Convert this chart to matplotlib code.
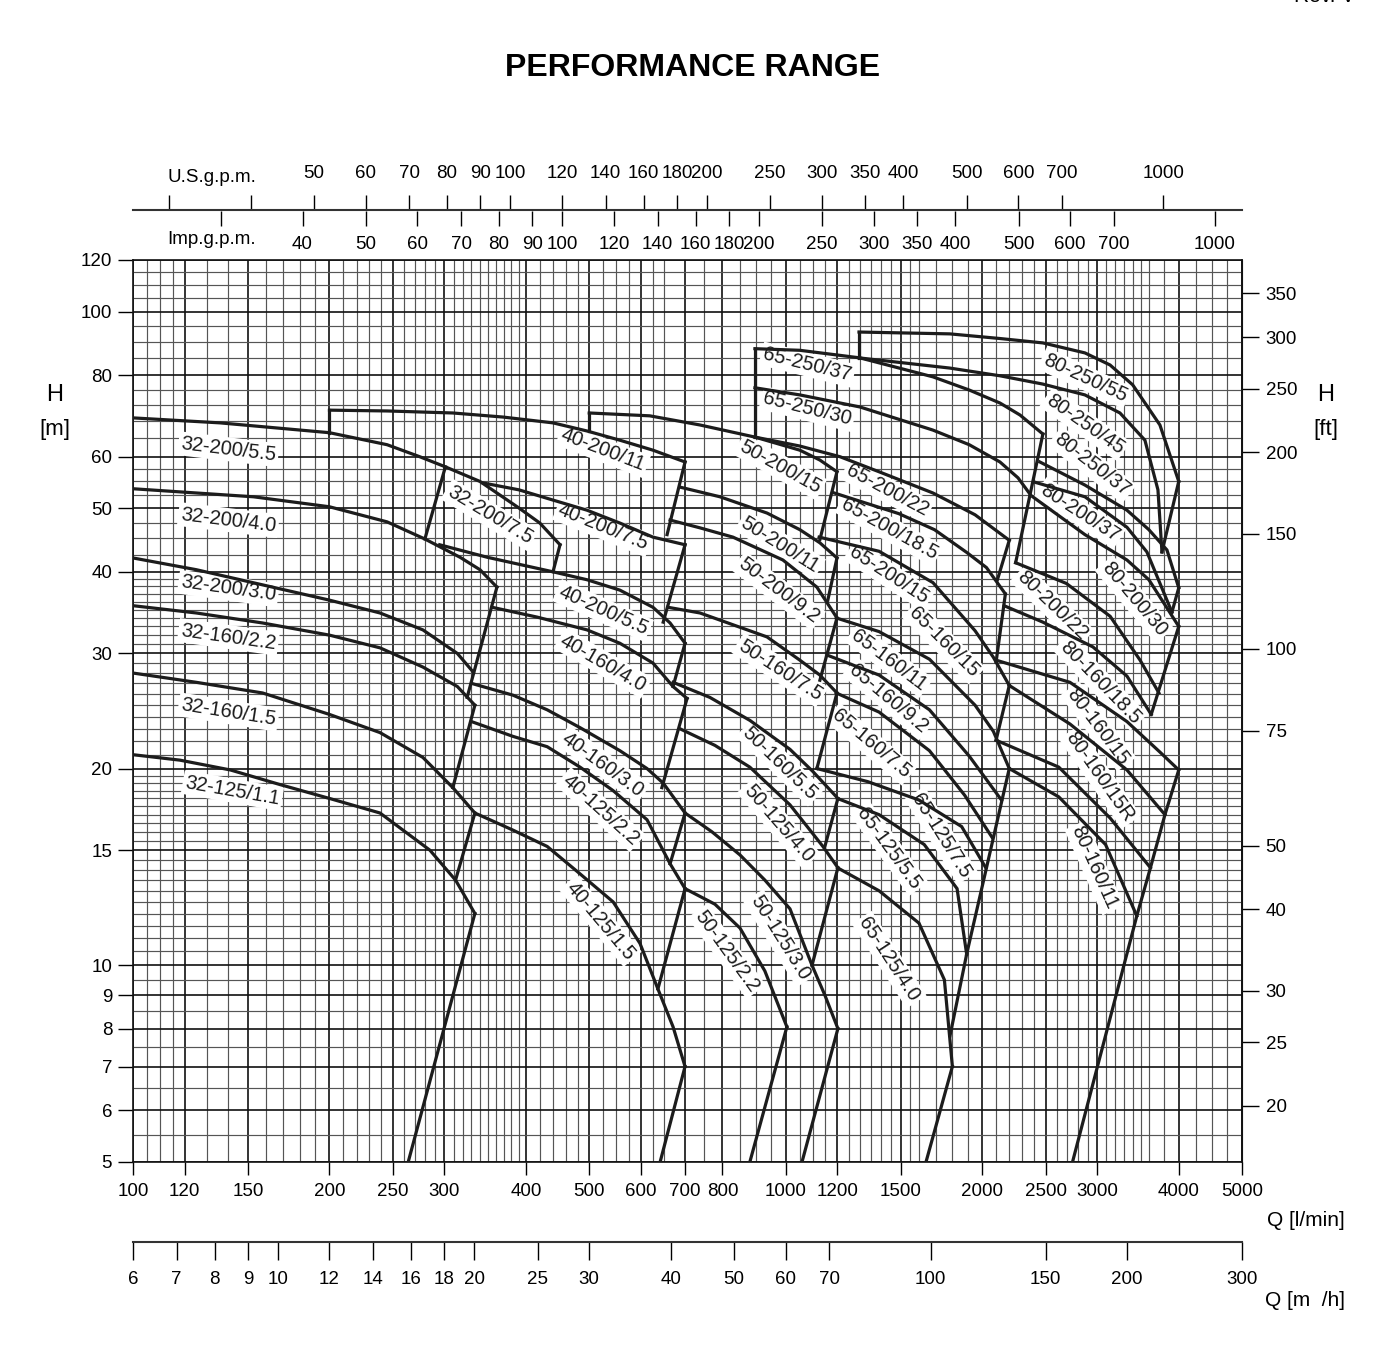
import numpy as np
import matplotlib
matplotlib.use("Agg")
import matplotlib.pyplot as plt
from matplotlib.ticker import NullFormatter, NullLocator

plt.rcParams['font.family'] = ['Liberation Sans', 'DejaVu Sans']

# ---------------- data: pump curves, Q [l/min] vs H [m] ----------------
lines_32 = [
    ([100, 136, 200, 245, 275, 301, 340, 390, 420, 451], [68.8, 67.6, 65.3, 62.6, 60, 57.9, 55, 50.1, 47.5, 44]),
    ([301, 280], [57.9, 44.9]),
    ([451, 440], [44, 40]),
    ([100, 153, 200, 245, 280, 317, 340, 361], [53.6, 52.1, 50.3, 47.7, 44.9, 42.1, 40.3, 37.9]),
    ([100, 125, 158, 200, 239, 278, 314, 332], [42, 40.3, 38.2, 36.2, 34.6, 32.6, 30, 28.1]),
    ([100, 125, 158, 200, 239, 278, 314, 334], [35.5, 34.6, 33.4, 32, 30.6, 28.6, 26.7, 25]),
    ([361, 325], [37.9, 25.7]),
    ([334, 309], [25, 18.7]),
    ([100, 125, 158, 200, 239, 278, 309, 334], [28, 27.1, 26.1, 24.2, 22.7, 20.8, 18.7, 17.1]),
    ([334, 312], [17.1, 13.5]),
    ([100, 118, 141, 168, 200, 239, 285, 312, 334], [21, 20.6, 19.9, 18.9, 18, 17.1, 15, 13.5, 12]),
    ([334, 264], [12, 5]),
]

lines_40 = [
    ([200, 200], [65.3, 70.7]),
    ([200, 245, 309, 369, 440, 496, 557, 626, 701], [70.7, 70.5, 70, 69, 67.6, 65.7, 63.6, 61.4, 58.9]),
    ([701, 658], [58.9, 45.6]),
    ([344, 390, 440, 496, 557, 626, 701], [54.7, 53.4, 51.5, 49.7, 47.5, 45.2, 44]),
    ([701, 649], [44, 33.5]),
    ([295, 349, 440, 496, 557, 626, 665, 701], [44, 42.1, 40, 38.9, 37.5, 35.3, 33.4, 31.1]),
    ([701, 672], [31.1, 26.7]),
    ([355, 416, 496, 557, 626, 672, 706], [35.3, 34.1, 32.6, 31.1, 29, 26.7, 25.6]),
    ([706, 646], [25.6, 18.7]),
    ([330, 382, 431, 484, 557, 613, 649, 701], [27, 25.9, 24.6, 23.1, 21.3, 20, 19, 17.1]),
    ([701, 665], [17.1, 14.3]),
    ([330, 382, 431, 484, 544, 613, 665, 701], [23.6, 22.4, 21.6, 20.1, 18.5, 16.7, 14.3, 13.1]),
    ([701, 637], [13.1, 9.2]),
    ([334, 382, 431, 484, 544, 598, 637, 672, 701], [17.1, 16.1, 15.2, 13.8, 12.5, 10.8, 9.2, 8.05, 7]),
    ([701, 642], [7, 5]),
]

lines_50 = [
    ([500, 500], [65.6, 70]),
    ([500, 619, 739, 897, 1051, 1128, 1198], [70, 69.3, 67.1, 64.3, 61.4, 59.3, 56.9]),
    ([1198, 1128], [56.9, 44.8]),
    ([689, 739, 793, 936, 1051, 1128, 1198], [53.9, 53, 52.1, 49.2, 46.4, 44.3, 42]),
    ([1198, 1160], [42, 36.2]),
    ([665, 739, 830, 990, 1116, 1198], [48, 46.7, 45.2, 41.7, 37.9, 34]),
    ([1198, 1128], [34, 27.3]),
    ([660, 739, 936, 1051, 1128, 1198], [35.3, 34.6, 31.8, 29.3, 27.8, 26.1]),
    ([1198, 1116], [26.1, 20]),
    ([672, 765, 881, 1015, 1100, 1202], [27.1, 25.7, 23.7, 21.4, 19.8, 18]),
    ([1202, 1148], [18, 15.2]),
    ([689, 779, 881, 1015, 1140, 1202], [23, 21.7, 20.1, 17.6, 15.2, 14.1]),
    ([1202, 1097], [14.1, 10]),
    ([701, 771, 851, 929, 1015, 1097, 1148, 1202], [17.1, 16, 14.75, 13.5, 12.2, 10, 9, 8]),
    ([1202, 1059], [8, 5]),
    ([701, 779, 851, 929, 1004], [13.1, 12.4, 11.4, 9.8, 8.05]),
    ([1004, 881], [8.05, 5]),
]

lines_65 = [
    ([897, 897], [64.3, 87.8]),
    ([897, 1051, 1299, 1681, 1910, 2129, 2285, 2477], [87.8, 87.3, 85, 79.5, 75.9, 72.5, 69.5, 65]),
    ([897, 1051, 1299, 1681, 1910, 2129, 2269, 2370], [76.5, 74.6, 71.5, 65.9, 62.6, 58.9, 55.7, 52.5]),
    ([897, 1051, 1211, 1390, 1681, 1950, 2200], [64.3, 62.3, 60, 56.9, 52.8, 48.9, 44.7]),
    ([2200, 2110], [44.7, 38.9]),
    ([1180, 1490, 1690, 1895, 2030, 2170], [52.9, 49.1, 46.4, 42.8, 40.6, 37]),
    ([2170, 2100], [37, 29.1]),
    ([1125, 1390, 1681, 1950, 2080, 2200], [45.2, 43, 38.5, 32.5, 29.6, 26.8]),
    ([2200, 2100], [26.8, 22.1]),
    ([1195, 1390, 1660, 1950, 2080, 2200], [34, 32.4, 29.4, 25, 22.8, 20]),
    ([2200, 1893], [20, 10.4]),
    ([1160, 1390, 1660, 1910, 2140], [29.8, 27.8, 24.6, 20.9, 17.9]),
    ([1195, 1390, 1660, 1880, 2070], [26.1, 24.4, 21.3, 18.2, 15.7]),
    ([1116, 1335, 1600, 1860, 2025], [20, 19.1, 17.9, 16.3, 14.1]),
    ([1200, 1390, 1630, 1830, 1893], [18, 17, 15.3, 13.1, 10.4]),
    ([1893, 1785], [10.4, 7.8]),
    ([1200, 1390, 1600, 1750, 1800], [14.1, 13, 11.6, 9.5, 7]),
    ([1800, 1640], [7, 5]),
]

lines_80 = [
    ([1295, 1295], [85, 93.1]),
    ([1295, 1784, 2129, 2477, 2873, 3139, 3400, 3743, 4000],
     [93.1, 92.5, 91, 89.6, 86.5, 82.9, 77.3, 67.1, 55]),
    ([4000, 3770], [55, 42.9]),
    ([1295, 1784, 2129, 2477, 2873, 3251, 3550, 3717, 3770],
     [85, 82, 79.8, 77.5, 74.6, 70, 63.6, 53.4, 42.9]),
    ([2477, 2250], [65, 41.3]),
    ([2451, 2873, 3332, 3600, 3837, 4000], [58.9, 54.3, 49.7, 46.4, 43.2, 37.8]),
    ([4000, 3905], [37.8, 34.7]),
    ([2400, 2873, 3332, 3575, 3905], [54.9, 52.1, 46.8, 42.9, 34.7]),
    ([2390, 2873, 3332, 3600, 4000], [52.1, 45.6, 41.7, 38.9, 33]),
    ([4000, 3630], [33, 24.2]),
    ([2250, 2690, 3140, 3490, 3730], [41.3, 38.4, 34.2, 29.3, 26.1]),
    ([2160, 2477, 2955, 3332, 3630], [35.5, 33.5, 30.7, 27.7, 24.2]),
    ([2100, 2725, 3332, 3742, 4000], [29.3, 27.1, 23.6, 21.2, 19.9]),
    ([4000, 3810, 3620, 3450, 2750], [19.9, 17, 14.1, 11.9, 5]),
    ([2200, 2725, 3332, 3810], [26.8, 23.4, 19.9, 17]),
    ([2100, 2620, 3140, 3620], [22.1, 20.1, 16.8, 14.1]),
    ([2200, 2620, 3090, 3450], [20, 18.1, 15.3, 11.9]),
]

label_names = [
    "32-200/5.5", "32-200/4.0", "32-200/7.5", "32-200/3.0", "32-160/2.2", "32-160/1.5", "32-125/1.1",
    "40-200/11", "40-200/7.5", "40-200/5.5", "40-160/4.0", "40-160/3.0", "40-125/2.2", "40-125/1.5",
    "50-200/15", "50-200/11", "50-200/9.2", "50-160/7.5", "50-160/5.5", "50-125/4.0", "50-125/3.0", "50-125/2.2",
    "65-250/37", "65-250/30", "65-200/22", "65-200/18.5", "65-200/15", "65-160/15", "65-160/11", "65-160/9.2",
    "65-160/7.5", "65-125/7.5", "65-125/5.5", "65-125/4.0",
    "80-250/55", "80-250/45", "80-250/37", "80-200/37", "80-200/30", "80-200/22",
    "80-160/18.5", "80-160/15", "80-160/15R", "80-160/11",
]
label_q = [140, 140, 352, 140, 140, 140, 142,
           525, 525, 525, 525, 525, 520, 520,
           980, 980, 975, 980, 980, 975, 980, 812,
           1080, 1080, 1430, 1440, 1440, 1745, 1440, 1435,
           1350, 1730, 1440, 1440,
           2873, 2873, 2945, 2823, 3420, 2560,
           3030, 3010, 3030, 2970]
label_h = [61.6, 48, 48.9, 37.7, 31.8, 24.4, 18.5,
           61.4, 46.8, 34.9, 29, 20.3, 17.3, 11.7,
           57.9, 44, 37.4, 28.3, 20.4, 16.5, 11.0, 10.5,
           83, 71, 53.3, 46.5, 39.5, 31.2, 29.3, 25.6,
           21.8, 15.8, 15.1, 10.2,
           79.2, 67.3, 58.3, 49.2, 36.3, 35.5,
           27.1, 23.2, 19.4, 14.1]
label_rot = [-7, -7, -31, -8, -8, -9, -10,
             -21, -22, -24, -30, -36, -42, -50,
             -29, -32, -37, -33, -44, -49, -58, -54,
             -14, -14, -28, -29, -33, -45, -37, -40,
             -40, -58, -54, -57,
             -25, -35, -38, -33, -50, -44,
             -46, -53, -55, -66]

# axis ticks
q_ticks = [100, 120, 150, 200, 250, 300, 400, 500, 600, 700, 800, 1000, 1200, 1500, 2000, 2500, 3000, 4000, 5000]
h_ticks = [5, 6, 7, 8, 9, 10, 15, 20, 30, 40, 50, 60, 80, 100, 120]
ft_ticks = [20, 25, 30, 40, 50, 75, 100, 150, 200, 250, 300, 350]
m3h_ticks = [6, 7, 8, 9, 10, 12, 14, 16, 18, 20, 25, 30, 40, 50, 60, 70, 100, 150, 200, 300]
usgpm_ticks = [30, 40, 50, 60, 70, 80, 90, 100, 120, 140, 160, 180, 200, 250, 300, 350, 400, 500, 600, 700, 1000]
impgpm_ticks = [30, 40, 50, 60, 70, 80, 90, 100, 120, 140, 160, 180, 200, 250, 300, 350, 400, 500, 600, 700, 1000]

# grid lines (drafting paper)
x_grid = np.concatenate([np.arange(100, 120, 5), np.arange(120, 400, 10), np.arange(400, 500, 20),
                         np.arange(500, 650, 25), np.arange(650, 1600, 50), np.arange(1600, 3600, 100),
                         np.arange(3600, 4000, 200), np.arange(4000, 5001, 250)])
y_grid = np.concatenate([np.arange(5, 20, 0.5), np.arange(20, 40, 1), np.arange(40, 60, 2.5),
                         np.arange(60, 80, 4), np.arange(80, 121, 5)])

FS = 13.5
W, H = 1386, 1352
fig = plt.figure(figsize=(W / 100, H / 100), dpi=100)
x0, x1 = 133 / W, 1242 / W
ax = fig.add_axes([x0, 1 - 1162 / H, x1 - x0, 902 / H])
ax.set_xscale('log')
ax.set_yscale('log')
ax.set_xlim(100, 5000)
ax.set_ylim(5, 120)

ax.set_xticks(q_ticks, [str(v) for v in q_ticks])
ax.set_yticks(h_ticks, [str(v) for v in h_ticks])
ax.set_xticks(x_grid, minor=True)
ax.set_yticks(y_grid, minor=True)
ax.xaxis.set_minor_formatter(NullFormatter())
ax.yaxis.set_minor_formatter(NullFormatter())
ax.tick_params(which='minor', length=0)
ax.tick_params(axis='x', which='major', direction='out', length=9, width=1, labelsize=FS, pad=6)
ax.tick_params(axis='y', which='major', direction='out', length=11, width=1, labelsize=FS, pad=4)
ax.set_axisbelow(True)
ax.grid(which='minor', color='#555555', lw=0.85)
ax.grid(which='major', color='#111111', lw=1.2)
for s in ax.spines.values():
    s.set_color('#111111')
    s.set_linewidth(1.2)

for fam in [lines_32, lines_40, lines_50, lines_65, lines_80]:
    for q, h in fam:
        ax.plot(q, h, color='#1c1c1c', lw=2.3, solid_joinstyle='miter', zorder=5)

for name, q, h, r in zip(label_names, label_q, label_h, label_rot):
    ax.text(q, h, name, rotation=r, rotation_mode='anchor', ha='center', va='center',
            fontsize=14.5, color='#1c1c1c', zorder=4,
            bbox=dict(boxstyle='square,pad=0.12', fc='white', ec='none'))

# right axis in feet
ax2 = ax.twinx()
ax2.set_yscale('log')
ax2.set_ylim(5 / 0.3048, 120 / 0.3048)
ax2.set_yticks(ft_ticks, [str(v) for v in ft_ticks])
ax2.yaxis.set_minor_locator(NullLocator())
ax2.tick_params(axis='y', direction='out', length=12, width=1, labelsize=FS, pad=5)
for k in ['left', 'top', 'bottom']:
    ax2.spines[k].set_visible(False)
ax2.spines['right'].set_color('#111111')


def flat_axis(ypix, lo, hi, side, show_line):
    a = fig.add_axes([x0, 1 - ypix / H, x1 - x0, 1e-4])
    a.set_xscale('log')
    a.set_xlim(lo, hi)
    a.patch.set_visible(False)
    a.yaxis.set_major_locator(NullLocator())
    a.yaxis.set_minor_locator(NullLocator())
    for s in a.spines.values():
        s.set_visible(False)
    if show_line:
        a.spines[side].set_visible(True)
        a.spines[side].set_color('#333333')
        a.spines[side].set_linewidth(1.5)
    a.xaxis.set_ticks_position(side)
    a.xaxis.set_label_position(side)
    return a


ax_us = flat_axis(210, 100 / 3.785, 5000 / 3.785, 'top', True)
ax_us.set_xticks(usgpm_ticks, ['' if v < 50 else str(v) for v in usgpm_ticks])
ax_us.xaxis.set_minor_locator(NullLocator())
ax_us.tick_params(axis='x', direction='out', length=11, width=1, labelsize=FS, pad=9)

ax_imp = flat_axis(211, 100 / 4.546, 5000 / 4.546, 'bottom', False)
ax_imp.set_xticks(impgpm_ticks, ['' if v < 40 else str(v) for v in impgpm_ticks])
ax_imp.xaxis.set_minor_locator(NullLocator())
ax_imp.tick_params(axis='x', direction='out', length=11, width=1, labelsize=FS, pad=7)

ax_m3 = flat_axis(1242, 6, 300, 'bottom', True)
ax_m3.set_xticks(m3h_ticks, [str(v) for v in m3h_ticks])
ax_m3.xaxis.set_minor_locator(NullLocator())
ax_m3.tick_params(axis='x', direction='out', length=13, width=1, labelsize=FS, pad=8)

fig.text(212 / W, 1 - 178 / H, "U.S.g.p.m.", ha='center', va='center', fontsize=FS)
fig.text(212 / W, 1 - 240 / H, "Imp.g.p.m.", ha='center', va='center', fontsize=FS)
fig.text(55 / W, 1 - 395 / H, "H", ha='center', va='center', fontsize=17)
fig.text(55 / W, 1 - 430 / H, "[m]", ha='center', va='center', fontsize=16)
fig.text(1326 / W, 1 - 395 / H, "H", ha='center', va='center', fontsize=17)
fig.text(1326 / W, 1 - 430 / H, "[ft]", ha='center', va='center', fontsize=16)
fig.text(1345 / W, 1 - 1220 / H, "Q [l/min]", ha='right', va='center', fontsize=15)
fig.text(1345 / W, 1 - 1300 / H, "Q [m  /h]", ha='right', va='center', fontsize=15)

fig.text(693 / W, 1 - 68 / H, "PERFORMANCE RANGE", ha='center', va='center', fontsize=23,
         fontweight='bold')
fig.text(1325 / W, 1 + 3 / H, "Rev. V", ha='center', va='center', fontsize=15)

fig.savefig('out.png', dpi=100)
